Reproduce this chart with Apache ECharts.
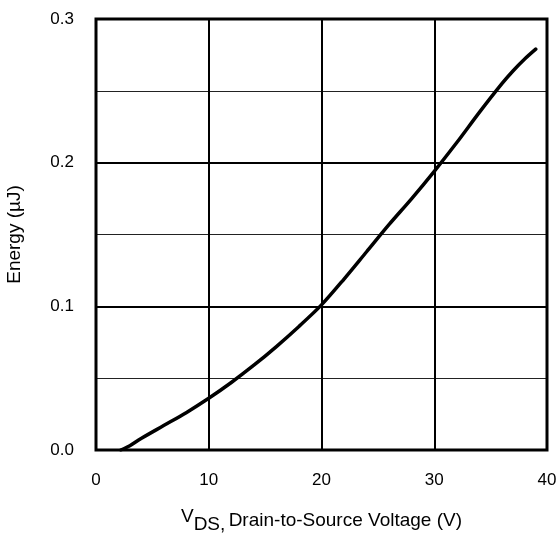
<!DOCTYPE html>
<html>
<head>
<meta charset="utf-8">
<script src="https://cdn.jsdelivr.net/npm/echarts@6/dist/echarts.min.js"></script>
<style>
  html, body { margin: 0; padding: 0; background: #fff; }
  #chart { width: 560px; height: 533px; }
</style>
</head>
<body>
<div id="chart"></div>
<script>
// VDS (V) vs switching energy (µJ)
const vds = [2.2, 3, 4, 6, 8, 10, 12, 14, 16, 18, 20, 22, 24, 26, 28, 30, 32, 34, 36, 37, 38, 39]
const energy = [0, 0.003, 0.008, 0.017, 0.026, 0.036, 0.047, 0.059, 0.072, 0.086, 0.101, 0.119, 0.138, 0.157, 0.175, 0.194, 0.214, 0.235, 0.255, 0.264, 0.272, 0.279]

const font = 'Liberation Sans, Arial, Helvetica, sans-serif'

const chart = echarts.init(document.getElementById('chart'))

const option = {
  animation: false,
  backgroundColor: '#fff',
  grid: {
    left: 96,
    right: 13,
    top: 19,
    bottom: 83,
    containLabel: false,
    outerBoundsMode: 'none',
    show: true,
    borderColor: '#000',
    borderWidth: 3,
    z: 10,
  },
  xAxis: {
    type: 'value',
    min: 0,
    max: 40,
    interval: 10,
    axisLine: { show: false },
    axisTick: { show: false },
    axisLabel: { color: '#000', fontSize: 17, fontFamily: font, margin: 22 },
    splitLine: { show: true, lineStyle: { color: '#000', width: 2 } },
    name: '{v|V}{s|DS,} {t|Drain-to-Source Voltage (V)}',
    nameLocation: 'middle',
    nameGap: 57,
    nameTextStyle: {
      rich: {
        v: { fontSize: 19, fontFamily: font, color: '#000', padding: [0, 0, 8, 0] },
        s: { fontSize: 19, fontFamily: font, color: '#000', padding: [8, 0, 0, 0] },
        t: { fontSize: 19, fontFamily: font, color: '#000' },
      },
    },
  },
  yAxis: {
    type: 'value',
    min: 0,
    max: 0.3,
    interval: 0.1,
    axisLine: { show: false },
    axisTick: { show: false },
    axisLabel: {
      color: '#000',
      fontSize: 17,
      fontFamily: font,
      margin: 22,
      formatter: (v) => v.toFixed(1),
    },
    splitLine: { show: true, lineStyle: { color: '#000', width: 2 } },
    minorTick: { show: false, splitNumber: 2 },
    minorSplitLine: { show: true, lineStyle: { color: '#222', width: 1 } },
    name: 'Energy (µJ)',
    nameLocation: 'middle',
    nameGap: 72,
    nameTextStyle: { color: '#000', fontSize: 19, fontFamily: font },
  },
  series: [
    {
      type: 'line',
      data: vds.map((v, i) => [v, energy[i]]),
      smooth: 0.3,
      showSymbol: false,
      lineStyle: { color: '#000', width: 3.5, cap: 'round' },
      z: 5,
    },
  ],
}

chart.setOption(option)
</script>
</body>
</html>
